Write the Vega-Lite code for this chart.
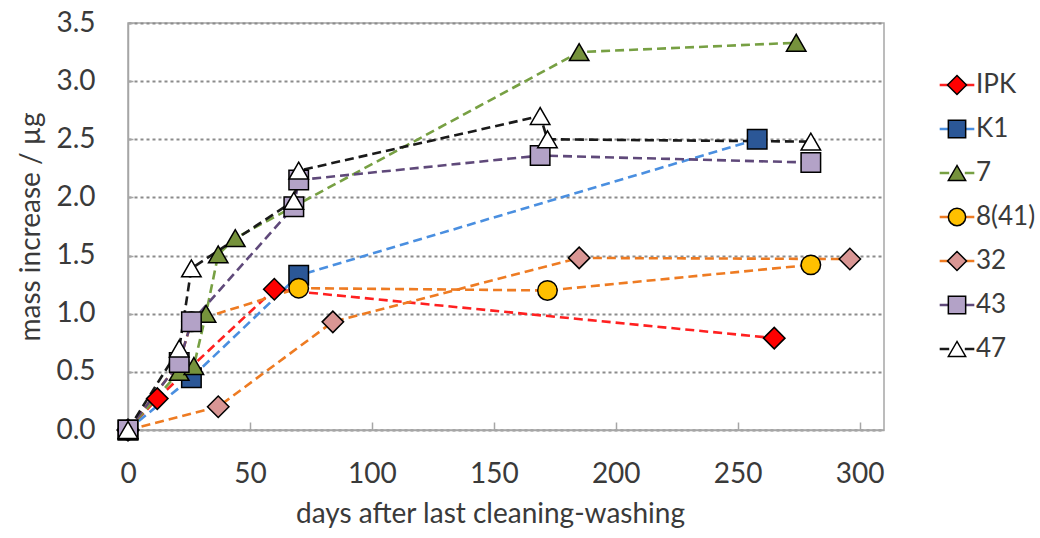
{
  "$schema": "https://vega.github.io/schema/vega-lite/v6.json",
  "width": 756,
  "height": 407,
  "autosize": {"type": "none"},
  "padding": {"left": 128, "top": 23, "right": 156, "bottom": 108},
  "background": "white",
  "config": {
    "font": "Lato",
    "view": {"stroke": "#a6a6a6", "strokeWidth": 1.5},
    "axis": {
      "labelFont": "Lato",
      "labelFontSize": 28,
      "labelColor": "#3a3a3a",
      "labelFlush": false,
      "titleFont": "Lato",
      "titleFontSize": 28,
      "titleFontWeight": "normal",
      "titleColor": "#3a3a3a",
      "domainColor": "#a6a6a6",
      "domainWidth": 1.5,
      "tickColor": "#a6a6a6",
      "tickWidth": 1.5
    },
    "legend": {
      "labelFont": "Lato",
      "labelFontSize": 26,
      "labelColor": "#3a3a3a"
    }
  },
  "data": {
    "values": [
      {"series": "IPK", "day": 0, "value": 0},
      {"series": "IPK", "day": 12, "value": 0.27},
      {"series": "IPK", "day": 60, "value": 1.21},
      {"series": "IPK", "day": 265, "value": 0.79},
      {"series": "K1", "day": 0, "value": 0},
      {"series": "K1", "day": 26, "value": 0.45},
      {"series": "K1", "day": 70, "value": 1.33},
      {"series": "K1", "day": 258, "value": 2.5},
      {"series": "7", "day": 0, "value": 0},
      {"series": "7", "day": 21, "value": 0.5},
      {"series": "7", "day": 27, "value": 0.55},
      {"series": "7", "day": 32, "value": 1.0},
      {"series": "7", "day": 37, "value": 1.51},
      {"series": "7", "day": 44, "value": 1.65},
      {"series": "7", "day": 185, "value": 3.25},
      {"series": "7", "day": 274, "value": 3.33},
      {"series": "8(41)", "day": 0, "value": 0},
      {"series": "8(41)", "day": 21, "value": 0.58},
      {"series": "8(41)", "day": 26, "value": 0.93},
      {"series": "8(41)", "day": 70, "value": 1.22},
      {"series": "8(41)", "day": 172, "value": 1.2},
      {"series": "8(41)", "day": 280, "value": 1.42},
      {"series": "32", "day": 0, "value": 0},
      {"series": "32", "day": 37, "value": 0.2},
      {"series": "32", "day": 84, "value": 0.93},
      {"series": "32", "day": 185, "value": 1.48},
      {"series": "32", "day": 296, "value": 1.47},
      {"series": "43", "day": 0, "value": 0},
      {"series": "43", "day": 21, "value": 0.58},
      {"series": "43", "day": 26, "value": 0.93},
      {"series": "43", "day": 68, "value": 1.92},
      {"series": "43", "day": 70, "value": 2.15},
      {"series": "43", "day": 169, "value": 2.36},
      {"series": "43", "day": 280, "value": 2.3},
      {"series": "47", "day": 0, "value": 0},
      {"series": "47", "day": 21, "value": 0.7},
      {"series": "47", "day": 26, "value": 1.39},
      {"series": "47", "day": 68, "value": 1.97},
      {"series": "47", "day": 70, "value": 2.23},
      {"series": "47", "day": 169, "value": 2.7},
      {"series": "47", "day": 172, "value": 2.5},
      {"series": "47", "day": 280, "value": 2.48}
    ]
  },
  "encoding": {
    "x": {
      "field": "day",
      "type": "quantitative",
      "scale": {"domain": [0, 310], "nice": false, "zero": false},
      "axis": {
        "title": "days after last cleaning-washing",
        "values": [0, 50, 100, 150, 200, 250, 300],
        "grid": false,
        "tickSize": -8,
        "labelPadding": 38,
        "titlePadding": 12,
        "titleX": 362
      }
    },
    "y": {
      "field": "value",
      "type": "quantitative",
      "scale": {"domain": [0, 3.5], "nice": false},
      "axis": {
        "title": "mass increase / µg",
        "values": [0, 0.5, 1, 1.5, 2, 2.5, 3, 3.5],
        "format": ".1f",
        "grid": true,
        "gridColor": "#8c8c8c",
        "gridDash": [3, 3],
        "gridWidth": 2,
        "tickSize": -5,
        "labelPadding": 38,
        "titlePadding": 10
      }
    }
  },
  "layer": [
    {
      "mark": {"type": "line", "interpolate": "linear", "strokeWidth": 2.6, "strokeDash": [9, 5], "clip": false},
      "encoding": {
        "detail": {"field": "series"},
        "stroke": {
          "field": "series",
          "type": "nominal",
          "scale": {
            "domain": ["IPK", "K1", "7", "8(41)", "32", "43", "47", "~"],
            "range": ["#ff2020", "#4a8fe0", "#77a043", "#ee7b22", "#ee7b22", "#5f497a", "#1a1a1a", "#ffffff"]
          },
          "legend": {
            "orient": "none",
            "legendX": 816,
            "legendY": 49,
            "title": null,
            "values": ["IPK", "K1", "7", "8(41)", "32", "43", "47"],
            "symbolType": "M-2,0H-0.9M0.9,0H2",
            "symbolSize": 300,
            "symbolStrokeWidth": 2.6,
            "symbolDash": [1, 0],
            "labelOffset": 6,
            "labelOpacity": 0,
            "rowPadding": 18
          }
        }
      }
    },
    {
      "mark": {"type": "point", "filled": true, "opacity": 1, "size": 380, "clip": false},
      "encoding": {
        "stroke": {"value": "black"},
        "strokeWidth": {"value": 1.5},
        "fill": {
          "field": "series",
          "type": "nominal",
          "scale": {
            "domain": ["IPK", "K1", "7", "8(41)", "32", "43", "47"],
            "range": ["#ff0000", "#2b5797", "#76923c", "#ffc000", "#d99694", "#b3a2c7", "#ffffff"]
          },
          "legend": {
            "orient": "none",
            "legendX": 816,
            "legendY": 49,
            "title": null,
            "symbolSize": 300,
            "symbolStrokeWidth": 1.5,
            "labelOffset": 6,
            "rowPadding": 18,
            "encode": {"symbols": {"stroke": {"value": "black"}, "strokeWidth": {"value": 1.5}}}
          }
        },
        "shape": {
          "field": "series",
          "type": "nominal",
          "scale": {
            "domain": ["IPK", "K1", "7", "8(41)", "32", "43", "47"],
            "range": ["M-1.1,0L0,-1.1L1.1,0L0,1.1Z", "square", "triangle-up", "circle", "M-1.1,0L0,-1.1L1.1,0L0,1.1Z", "square", "triangle-up"]
          },
          "legend": {
            "orient": "none",
            "legendX": 816,
            "legendY": 49,
            "title": null,
            "symbolSize": 300,
            "symbolStrokeWidth": 1.5,
            "labelOffset": 6,
            "rowPadding": 18,
            "encode": {"symbols": {"stroke": {"value": "black"}, "strokeWidth": {"value": 1.5}}}
          }
        }
      }
    }
  ]
}
